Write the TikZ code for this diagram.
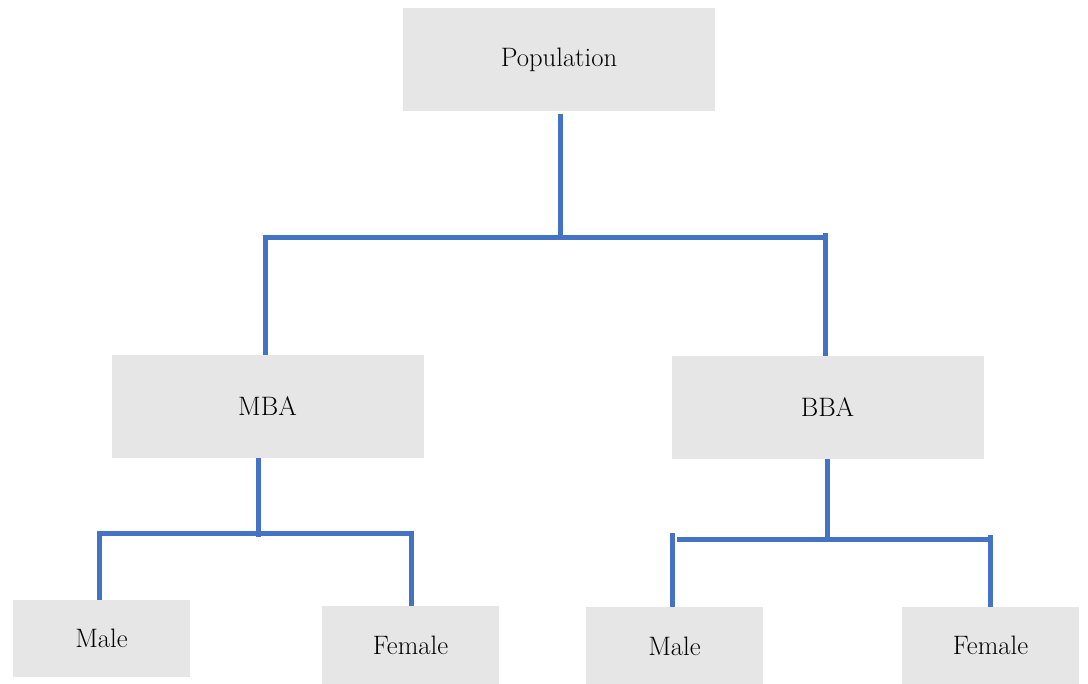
\documentclass[tikz,border=0pt]{standalone}
\usetikzlibrary{positioning}
\definecolor{lineblue}{HTML}{4472C4}
\definecolor{boxgray}{HTML}{E6E6E6}
\begin{document}
\begin{tikzpicture}[x=0.75pt,y=-0.75pt,b/.style={fill=boxgray,inner sep=0pt,minimum width=234pt,minimum height=77pt,font=\fontsize{20}{24}\selectfont},s/.style={b,minimum width=133pt,minimum height=58pt},c/.style={draw=lineblue,line width=3.75pt}]
\useasboundingbox (0,0) rectangle (1088,684);
\node[b](pop) at (559,59.5){Population};
\node[b](mba) at (267.5,406.5){MBA};
\node[b](bba) at (827.5,407.5){BBA};
\node[s](m1) at (101.5,638.5){Male};
\node[s](f1) at (410.5,645){Female};
\node[s](m2) at (674.5,646){Male};
\node[s](f2) at (990.5,645.5){Female};
% junctions
\coordinate (t) at (560,238);\coordinate (tl) at (265,238);\coordinate (tr) at (825,238);
\coordinate (mj) at (258,533);\coordinate (ml) at (99,533);\coordinate (mr) at (411,533);
\coordinate (bj) at (827,539);\coordinate (bl) at (672,539);\coordinate (br) at (990,539);
% population level
\draw[c] (pop.south-|t) ++(0,3) -- (t);
\draw[c,line cap=rect] (tl) -- (tr);
\draw[c] ([yshift=1.5pt]tl) -- (tl|-mba.north);
\draw[c] ([yshift=3.75pt]tr) -- (tr|-bba.north);
% MBA level
\draw[c] (mba.south-|mj) -- ([yshift=-3pt]mj);
\draw[c,line cap=rect] (ml) -- (mr);
\draw[c] ([yshift=1.5pt]ml) -- (ml|-m1.north);
\draw[c] ([yshift=1.5pt]mr) -- (mr|-f1.north);
% BBA level
\draw[c] (bba.south-|bj) -- ([yshift=-2pt]bj);
\draw[c] ([xshift=3.75pt]bl) -- ([xshift=2.25pt]br);
\draw[c] ([yshift=4.5pt]bl) -- (bl|-m2.north);
\draw[c] ([yshift=3pt]br) -- (br|-f2.north);
\end{tikzpicture}
\end{document}
